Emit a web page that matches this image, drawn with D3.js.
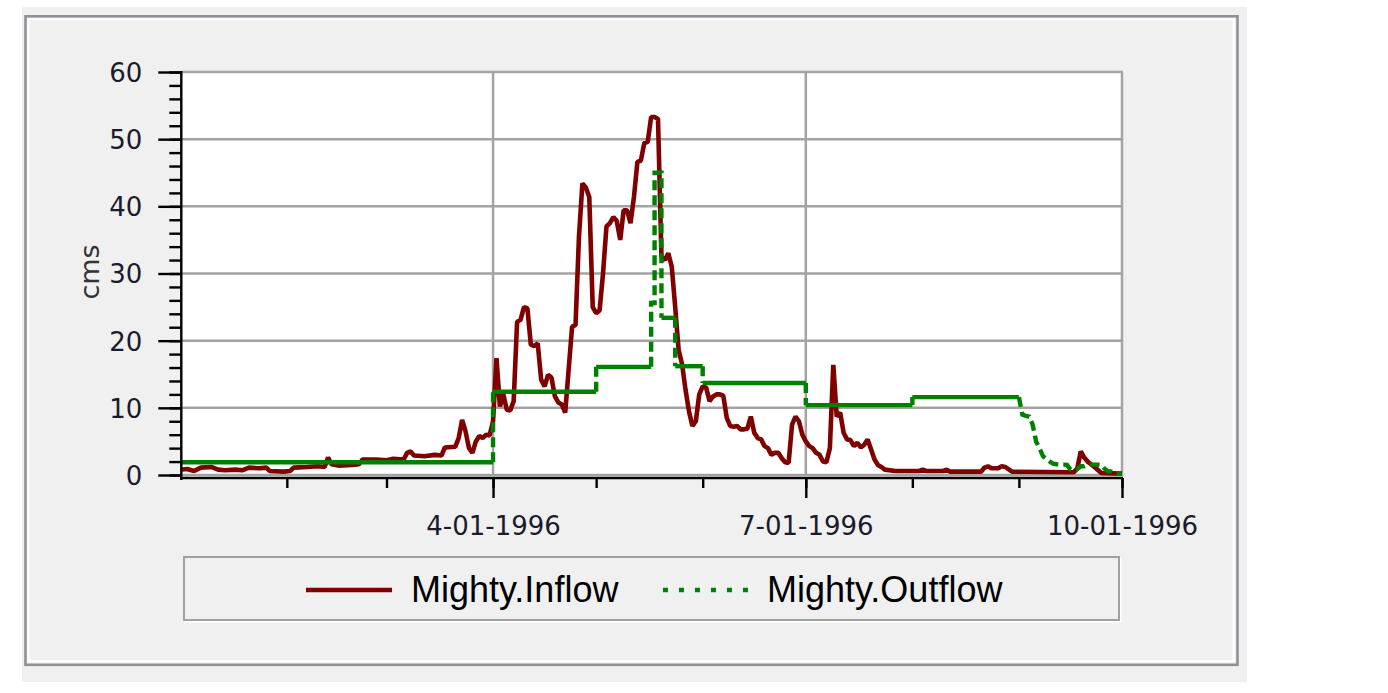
<!DOCTYPE html>
<html><head><meta charset="utf-8">
<script src="https://cdn.jsdelivr.net/npm/d3@7"></script>
<style>body{margin:0;background:#fff;} svg{display:block}</style>
</head><body><svg id="c" width="1388" height="693"></svg>
<script>
// ---------------- DATA ----------------
const seriesNames = ["Mighty.Inflow", "Mighty.Outflow"];
const yTickValues = [0, 10, 20, 30, 40, 50, 60];
const xLabelDates = ["1996-04-01", "1996-07-01", "1996-10-01"];
const yAxisTitle = "cms";

const inflow = [
["1996-01-01",0.8],["1996-01-03",0.9],["1996-01-05",0.6],["1996-01-07",1.1],["1996-01-10",1.2],["1996-01-12",0.8],
["1996-01-14",0.7],["1996-01-17",0.8],["1996-01-19",0.7],["1996-01-21",1.1],["1996-01-24",1.0],["1996-01-26",1.1],
["1996-01-27",0.6],["1996-01-31",0.5],["1996-02-02",0.6],["1996-02-03",1.1],["1996-02-07",1.2],["1996-02-10",1.3],
["1996-02-12",1.2],["1996-02-13",2.6],["1996-02-14",1.6],["1996-02-16",1.4],["1996-02-20",1.5],["1996-02-22",1.6],
["1996-02-23",2.3],["1996-02-27",2.3],["1996-03-01",2.2],["1996-03-03",2.4],["1996-03-06",2.3],["1996-03-07",3.3],
["1996-03-08",3.5],["1996-03-09",2.9],["1996-03-12",2.8],["1996-03-15",3.0],["1996-03-17",2.9],["1996-03-18",4.1],
["1996-03-21",4.2],["1996-03-22",5.5],["1996-03-23",8.2],["1996-03-24",6.5],["1996-03-25",4.0],["1996-03-26",3.3],
["1996-03-27",5.0],["1996-03-28",5.8],["1996-03-29",5.5],["1996-03-30",6.0],["1996-03-31",5.9],
["1996-04-01",8.0],["1996-04-02",17.4],["1996-04-03",10.2],["1996-04-04",12.0],["1996-04-05",9.7],["1996-04-06",9.6],
["1996-04-07",11.0],["1996-04-08",22.8],["1996-04-09",23.1],["1996-04-10",25.0],["1996-04-11",24.8],["1996-04-12",19.4],
["1996-04-13",19.2],["1996-04-14",19.6],["1996-04-15",14.2],["1996-04-16",13.2],["1996-04-17",14.9],["1996-04-18",14.5],
["1996-04-19",11.7],["1996-04-20",10.8],["1996-04-21",10.5],["1996-04-22",9.3],["1996-04-23",15.7],["1996-04-24",22.1],
["1996-04-25",22.3],["1996-04-26",35.5],["1996-04-27",43.4],["1996-04-28",42.8],["1996-04-29",41.4],["1996-04-30",25.0],
["1996-05-01",24.1],["1996-05-02",24.5],["1996-05-03",30.0],["1996-05-04",37.0],["1996-05-05",37.5],["1996-05-06",38.4],
["1996-05-07",37.8],["1996-05-08",35.0],["1996-05-09",39.4],["1996-05-10",39.4],["1996-05-11",37.5],["1996-05-12",41.4],
["1996-05-13",46.6],["1996-05-14",46.8],["1996-05-15",49.4],["1996-05-16",49.6],["1996-05-17",53.3],["1996-05-18",53.3],
["1996-05-19",53.0],["1996-05-20",32.5],["1996-05-21",32.0],["1996-05-22",33.0],["1996-05-23",31.0],["1996-05-24",25.0],
["1996-05-25",18.6],["1996-05-26",16.5],["1996-05-27",12.7],["1996-05-28",9.5],["1996-05-29",7.3],["1996-05-30",8.0],
["1996-05-31",12.0],["1996-06-01",13.2],["1996-06-02",13.0],["1996-06-03",11.0],["1996-06-04",11.7],["1996-06-05",12.0],
["1996-06-06",12.0],["1996-06-07",11.8],["1996-06-08",8.5],["1996-06-09",7.3],["1996-06-10",7.2],["1996-06-11",7.3],
["1996-06-12",6.8],["1996-06-13",6.8],["1996-06-14",6.9],["1996-06-15",8.7],["1996-06-16",6.3],["1996-06-17",5.5],
["1996-06-18",5.3],["1996-06-19",4.3],["1996-06-20",4.0],["1996-06-21",3.0],["1996-06-22",3.3],["1996-06-23",3.3],
["1996-06-24",2.5],["1996-06-25",1.9],["1996-06-26",1.8],["1996-06-27",7.5],["1996-06-28",8.7],["1996-06-29",8.0],
["1996-06-30",6.0],["1996-07-01",5.0],["1996-07-02",4.3],["1996-07-03",4.0],["1996-07-04",3.3],["1996-07-05",3.0],
["1996-07-06",2.0],["1996-07-07",1.9],["1996-07-08",4.0],["1996-07-09",16.4],["1996-07-10",8.7],["1996-07-11",9.3],
["1996-07-12",6.3],["1996-07-13",5.3],["1996-07-14",5.2],["1996-07-15",4.3],["1996-07-16",4.8],["1996-07-17",4.1],
["1996-07-18",4.5],["1996-07-19",5.3],["1996-07-20",3.8],["1996-07-21",2.3],["1996-07-22",1.5],["1996-07-23",1.2],
["1996-07-24",0.8],["1996-07-27",0.6],["1996-08-03",0.6],["1996-08-04",0.8],["1996-08-05",0.6],["1996-08-10",0.6],
["1996-08-11",0.8],["1996-08-12",0.5],["1996-08-21",0.5],["1996-08-22",1.1],["1996-08-23",1.3],["1996-08-24",1.0],
["1996-08-26",1.0],["1996-08-27",1.3],["1996-08-28",1.2],["1996-08-30",0.5],["1996-09-17",0.4],["1996-09-18",1.0],
["1996-09-19",3.5],["1996-09-20",2.6],["1996-09-21",2.0],["1996-09-22",1.6],["1996-09-23",1.2],["1996-09-25",0.3],
["1996-10-01",0.2]
];

const outflow = [
["1996-01-01",1.9],["1996-04-01",1.9],["1996-04-01",12.4],["1996-05-01",12.4],["1996-05-01",16.1],
["1996-05-17",16.1],["1996-05-17",25.6],["1996-05-18",25.6],["1996-05-18",45.0],["1996-05-20",45.0],
["1996-05-20",23.4],["1996-05-24",23.4],["1996-05-24",16.2],["1996-06-01",16.2],["1996-06-01",13.7],
["1996-07-01",13.7],["1996-07-01",10.4],["1996-08-01",10.4],["1996-08-01",11.6],["1996-09-01",11.6],
["1996-09-02",9.0],["1996-09-03",8.8],["1996-09-04",8.7],["1996-09-05",7.5],["1996-09-06",5.0],["1996-09-07",4.0],
["1996-09-08",2.8],["1996-09-09",2.4],["1996-09-10",2.0],["1996-09-11",1.7],["1996-09-12",1.6],["1996-09-13",1.55],
["1996-09-14",1.55],["1996-09-15",1.5],["1996-09-16",0.8],["1996-09-17",0.8],["1996-09-18",0.9],["1996-09-19",1.3],
["1996-09-20",1.3],["1996-09-21",1.5],["1996-09-22",1.55],["1996-09-23",1.55],["1996-09-24",1.55],["1996-09-25",1.5],
["1996-09-26",0.9],["1996-09-27",0.55],["1996-09-28",0.5],["1996-09-29",0.3],["1996-09-30",0.1],["1996-10-01",0.1]
];

// ---------------- CHART ----------------
const parse = d3.timeParse("%Y-%m-%d");
const inData = inflow.map(d => ({date: parse(d[0]), v: d[1]}));
const outData = outflow.map(d => ({date: parse(d[0]), v: d[1]}));

const svg = d3.select("#c");
const tickFont = "'DejaVu Sans', sans-serif";
const legendFont = "'Liberation Sans', Arial, sans-serif";
const textCol = "#1b1b2b";

// panel background + frame
svg.append("rect").attr("x",22).attr("y",7).attr("width",1225).attr("height",675).attr("fill","#f0f0f0");
svg.append("rect").attr("x",28.5).attr("y",19.3).attr("width",1205).attr("height",642)
  .attr("fill","none").attr("stroke","#ffffff").attr("stroke-width",2);
svg.append("rect").attr("x",25.5).attr("y",16.3).attr("width",1212).attr("height",648.5)
  .attr("fill","none").attr("stroke","#8e9197").attr("stroke-width",2.6);

const L = 182, R = 1122, T = 72, B = 475;
const x = d3.scaleTime().domain([new Date(1996,0,1,12), new Date(1996,9,1)]).range([L, R]);
const y = d3.scaleLinear().domain([0, 60]).range([B, T]);

// plot area
svg.append("rect").attr("x",L).attr("y",T).attr("width",R-L).attr("height",B-T+2).attr("fill","#fff");

// gridlines
const grid = svg.append("g").attr("stroke","#a3a3a3").attr("stroke-width",2.5);
grid.selectAll("line.h").data(yTickValues).join("line").attr("class","h")
  .attr("x1",L).attr("x2",R+1).attr("y1",d=>y(d)).attr("y2",d=>y(d));
grid.selectAll("line.v").data(xLabelDates.map(parse)).join("line").attr("class","v")
  .attr("x1",d=>x(d)).attr("x2",d=>x(d)).attr("y1",T).attr("y2",B+1);

// clip
svg.append("clipPath").attr("id","clip").append("rect")
  .attr("x",L).attr("y",T-3).attr("width",R-L+1).attr("height",B-T+4);
const plot = svg.append("g").attr("clip-path","url(#clip)");

const line = d3.line().x(d => x(d.date)).y(d => y(d.v));

// inflow
plot.append("path").datum(inData).attr("d", line)
  .attr("fill","none").attr("stroke","#800000").attr("stroke-width",4.6)
  .attr("stroke-linejoin","bevel");

// outflow: long constant runs solid, transitions dashed
const groups = [];
for (let i = 0; i < outData.length - 1; i++) {
  const a = outData[i], b = outData[i+1];
  const solid = a.v === b.v && (b.date - a.date) >= 3 * 864e5;
  const last = groups[groups.length - 1];
  if (last && last.solid === solid) last.pts.push(b);
  else groups.push({solid, pts: [a, b]});
}
plot.selectAll("path.out").data(groups).join("path").attr("class","out")
  .attr("d", g => line(g.pts))
  .attr("fill","none").attr("stroke","#008000").attr("stroke-width",4.4)
  .attr("stroke-dasharray", g => g.solid ? null : "10,5")
  .attr("stroke-linejoin","miter");

// y axis
const yAxisG = svg.append("g").attr("transform",`translate(${L-0.7},0)`);
yAxisG.call(d3.axisLeft(y).tickValues(d3.range(0, 61, 2)).tickSize(12).tickSizeOuter(0).tickFormat(""));
yAxisG.call(g => g.select(".domain").remove());
const yMajor = svg.append("g").attr("transform",`translate(${L-0.7},0)`);
yMajor.call(d3.axisLeft(y).tickValues(yTickValues).tickSize(23).tickPadding(16).tickSizeOuter(0));
yMajor.select(".domain").attr("d", `M0,${T-1}V${B+5}`);
[yAxisG, yMajor].forEach(g => g.selectAll("line,path").attr("stroke","#000").attr("stroke-width",2.4));
yMajor.selectAll("text").attr("font-family",tickFont).attr("font-size",26).attr("fill",textCol).attr("dy","0.36em");

// x axis
const axisY = B + 3;
const xMinor = svg.append("g").attr("transform",`translate(0,${axisY})`);
xMinor.call(d3.axisBottom(x).ticks(d3.timeMonth.every(1)).tickSize(10).tickSizeOuter(0).tickFormat(""));
xMinor.select(".domain").remove();
const xMajor = svg.append("g").attr("transform",`translate(0,${axisY})`);
xMajor.call(d3.axisBottom(x).tickValues(xLabelDates.map(parse)).tickSize(20).tickPadding(18.5)
  .tickSizeOuter(0).tickFormat(d3.timeFormat("%-m-%d-%Y")));
xMajor.select(".domain").attr("d", `M${L-1.5},0H${R+1}`);
[xMinor, xMajor].forEach(g => g.selectAll("line,path").attr("stroke","#000").attr("stroke-width",2.4));
xMajor.selectAll("text").attr("font-family",tickFont).attr("font-size",26).attr("fill",textCol);

// y title
svg.append("text").attr("transform","translate(99,272) rotate(-90)")
  .attr("text-anchor","middle").attr("font-family",tickFont).attr("font-size",27)
  .attr("fill","#333").text(yAxisTitle);

// legend
const lg = svg.append("g");
lg.append("rect").attr("x",185.5).attr("y",558.5).attr("width",935).attr("height",63)
  .attr("fill","none").attr("stroke","#fff").attr("stroke-width",2);
lg.append("rect").attr("x",184).attr("y",557).attr("width",935).attr("height",63)
  .attr("fill","#f0f0f0").attr("stroke","#a0a0a0").attr("stroke-width",2);
const legendItems = [
  {name: seriesNames[0], x1: 306, x2: 392, tx: 411, color: "#800000", dash: null},
  {name: seriesNames[1], x1: 663, x2: 751, tx: 767, color: "#008000", dash: "5,11"}
];
legendItems.forEach(it => {
  lg.append("line").attr("x1",it.x1).attr("x2",it.x2).attr("y1",590).attr("y2",590)
    .attr("stroke",it.color).attr("stroke-width",4.4).attr("stroke-dasharray",it.dash);
  lg.append("text").attr("x",it.tx).attr("y",602).attr("font-family",legendFont)
    .attr("font-size",36).attr("fill","#000").text(it.name);
});
</script>
</body></html>
